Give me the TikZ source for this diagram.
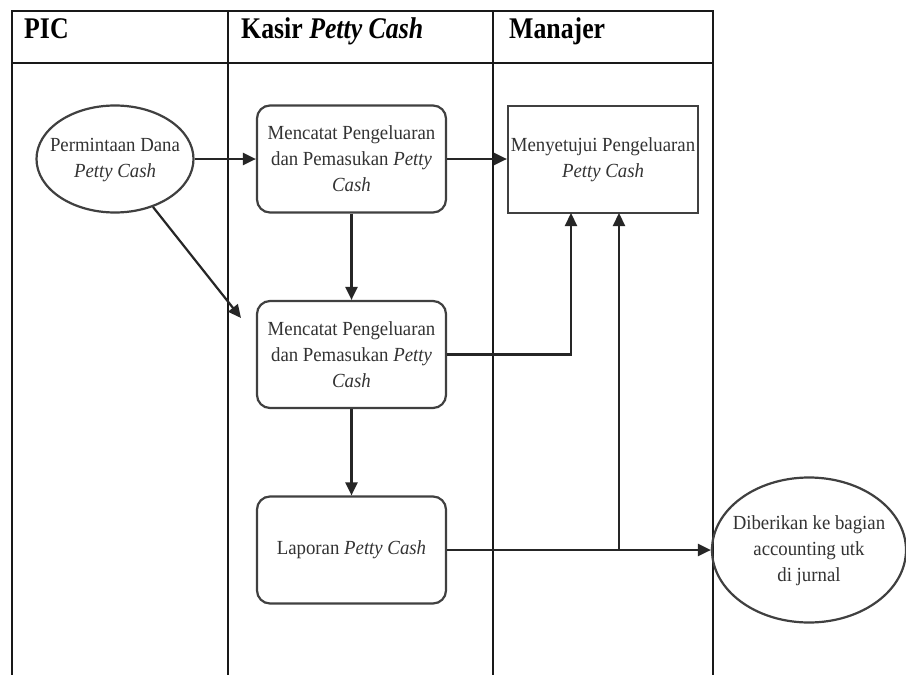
\documentclass[tikz,border=0pt]{standalone}
\usepackage{fontspec}
\setmainfont{Liberation Serif}[FakeStretch=0.94]
\newfontfamily\headfont{Liberation Serif}[FakeStretch=0.86]
\usetikzlibrary{shapes.geometric,arrows.meta}
\begin{document}
\begin{tikzpicture}[x=1pt,y=-1pt,
  lane/.style={draw=black!90,line width=1.5pt},
  head/.style={anchor=base west,inner sep=0pt,font=\headfont\bfseries\fontsize{30}{34}\selectfont,text=black},
  proc/.style={draw=black!75,line width=2.2pt,rounded corners=13pt,minimum width=189pt,minimum height=107pt,inner sep=0pt,align=center,text=black!80,font=\fontsize{20}{26}\selectfont},
  sqbox/.style={draw=black!75,line width=2.2pt,minimum width=190pt,minimum height=107pt,inner sep=0pt,align=center,text=black!80,font=\fontsize{20}{26}\selectfont},
  ell/.style={draw=black!75,line width=2.2pt,ellipse,inner sep=0pt},
  etext/.style={inner sep=0pt,align=center,text=black!80,font=\fontsize{20}{26}\selectfont},
  arr/.style={draw=black!85,line width=2.2pt,-{Triangle[length=13pt,width=12pt]}}
]
\useasboundingbox (0,0) rectangle (906,675);
\fill[white] (0,0) rectangle (906,675);
% swimlane table
\draw[lane] (12,675) -- (12,11) -- (713,11) -- (713,675);
\draw[lane] (12,63) -- (713,63);
\draw[lane] (228,11) -- (228,675);
\draw[lane] (493,11) -- (493,675);
\node[head] (hpic) at (24,38) {PIC};
\node[head] (hkas) at (241,38) {Kasir \textit{Petty Cash}};
\node[head] (hman) at (509,38) {Manajer};
% shapes
\node[ell,minimum width=157pt,minimum height=107pt] (e1) at (115,159) {};
\node[etext] (e1t) at (115,160) {Permintaan Dana\\\textit{Petty Cash}};
\node[proc] (b1) at (351.5,159) {Mencatat Pengeluaran\\dan Pemasukan \textit{Petty}\\\textit{Cash}};
\node[proc] (b2) at (351.5,354.5) {Mencatat Pengeluaran\\dan Pemasukan \textit{Petty}\\\textit{Cash}};
\node[sqbox] (b3) at (603,159.5) {Menyetujui Pengeluaran\\\textit{Petty Cash}};
\node[proc] (lap) at (351.5,550) {Laporan \textit{Petty Cash}};
\node[ell,minimum width=194pt,minimum height=145pt] (e2) at (809,550) {};
\node[etext] (e2t) at (809,551) {Diberikan ke bagian\\accounting utk\\di jurnal};
% connectors
\coordinate (d1) at (241,318);
\coordinate (u1) at (571,213);
\coordinate (u2) at (619,213);
\coordinate (j2) at (619,550);
\draw[arr] (e1.east) -- (e1.east -| b1.west);
\draw[arr] (b1.east) -- (b1.east -| b3.west);
\draw[arr] (b1.south) -- (b2.north);
\draw[arr] (e1) -- (d1);
\draw[arr] (b2.east) -| (u1);
\draw[arr] (b2.south) -- (lap.north);
\draw[arr] (lap.east) -- (lap.east -| e2.west);
\draw[arr] (j2) -- (u2);
\end{tikzpicture}
\end{document}
